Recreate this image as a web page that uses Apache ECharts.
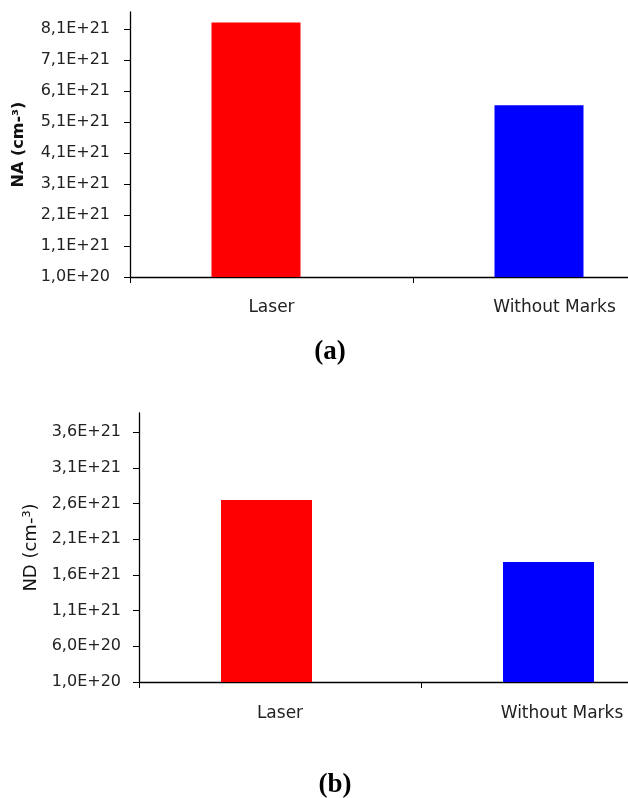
<!DOCTYPE html>
<html>
<head>
<meta charset="utf-8">
<script src="https://cdn.jsdelivr.net/npm/echarts@6/dist/echarts.min.js"></script>
<style>
  html, body { margin: 0; padding: 0; background: #fff; }
  #chart { width: 628px; height: 798px; }
</style>
</head>
<body>
<div id="chart"></div>
<script>
// Sample categories shared by both panels
const categories = ['Laser', 'Without Marks'];

// Panel (a): acceptor concentration NA, cm^-3
const naValues = [8.31e21, 5.64e21];
const naTicks = [1.0e20, 1.1e21, 2.1e21, 3.1e21, 4.1e21, 5.1e21, 6.1e21, 7.1e21, 8.1e21];

// Panel (b): donor concentration ND, cm^-3
const ndValues = [2.65e21, 1.78e21];
const ndTicks = [1.0e20, 6.0e20, 1.1e21, 1.6e21, 2.1e21, 2.6e21, 3.1e21, 3.6e21];

const barColors = ['#ff0000', '#0000ff'];

// "8,1E+21" style labels (comma decimal separator)
function sci(v) {
  return Number(v).toExponential(1).replace('.', ',').replace('e+', 'E+');
}

const labelFont = 'DejaVu Sans';
const axisLine = { show: true, lineStyle: { color: '#000', width: 1.3 } };

function yAxis(gridIndex, name, bold, nameSize, gap, ticks, interval, max, labelMargin) {
  return {
    type: 'value',
    gridIndex: gridIndex,
    min: 1e20,
    max: max,
    interval: interval,
    name: name,
    nameLocation: 'middle',
    nameRotate: 90,
    nameGap: gap,
    nameTextStyle: {
      fontFamily: labelFont, fontSize: nameSize,
      fontWeight: bold ? 'bold' : 'normal', color: '#111'
    },
    axisLine: axisLine,
    axisTick: { show: true, length: 6, lineStyle: { color: '#000' }, customValues: ticks },
    splitLine: { show: false },
    axisLabel: {
      fontFamily: labelFont, fontSize: 16, color: '#222', margin: labelMargin,
      customValues: ticks,
      formatter: sci
    }
  };
}

function xAxis(gridIndex, margin) {
  return {
    type: 'category',
    gridIndex: gridIndex,
    data: categories,
    axisLine: axisLine,
    axisTick: { show: true, length: 6, interval: 0, lineStyle: { color: '#000' } },
    axisLabel: { fontFamily: labelFont, fontSize: 17, color: '#222', margin: margin, interval: 0 }
  };
}

function bars(axisIndex, values, width) {
  return {
    type: 'bar',
    xAxisIndex: axisIndex,
    yAxisIndex: axisIndex,
    barWidth: width,
    barGap: '0%',
    data: values.map((v, i) => ({ value: v, itemStyle: { color: barColors[i] } })),
    silent: true
  };
}

// empty companion series: reserves the unused slot beside each bar
function spacer(axisIndex, width) {
  return {
    type: 'bar',
    xAxisIndex: axisIndex,
    yAxisIndex: axisIndex,
    barWidth: width,
    barGap: '0%',
    data: [],
    silent: true
  };
}

const chart = echarts.init(document.getElementById('chart'), null, { renderer: 'canvas' });
chart.setOption({
  animation: false,
  backgroundColor: '#ffffff',
  title: [
    {
      text: '(a)', left: 325, top: 334, textAlign: 'center',
      textStyle: { fontFamily: 'Liberation Serif', fontWeight: 'bold', fontSize: 27, color: '#000' }
    },
    {
      text: '(b)', left: 330, top: 767, textAlign: 'center',
      textStyle: { fontFamily: 'Liberation Serif', fontWeight: 'bold', fontSize: 27, color: '#000' }
    }
  ],
  // the plot areas run past the right edge of the page
  grid: [
    { left: 130, top: 12, width: 566, height: 265, outerBoundsMode: 'none', containLabel: false },
    { left: 139, top: 413, width: 564, height: 269, outerBoundsMode: 'none', containLabel: false }
  ],
  xAxis: [xAxis(0, 22), xAxis(1, 23)],
  yAxis: [
    yAxis(0, 'NA (cm-³)', true, 16, 103, naTicks, 1e21, 8.648e21, 20),
    yAxis(1, 'ND (cm-³)', false, 18, 93, ndTicks, 5e20, 3.867e21, 18)
  ],
  series: [
    bars(0, naValues, 89),
    spacer(0, 31),
    bars(1, ndValues, 91),
    spacer(1, 27)
  ]
});
</script>
</body>
</html>
